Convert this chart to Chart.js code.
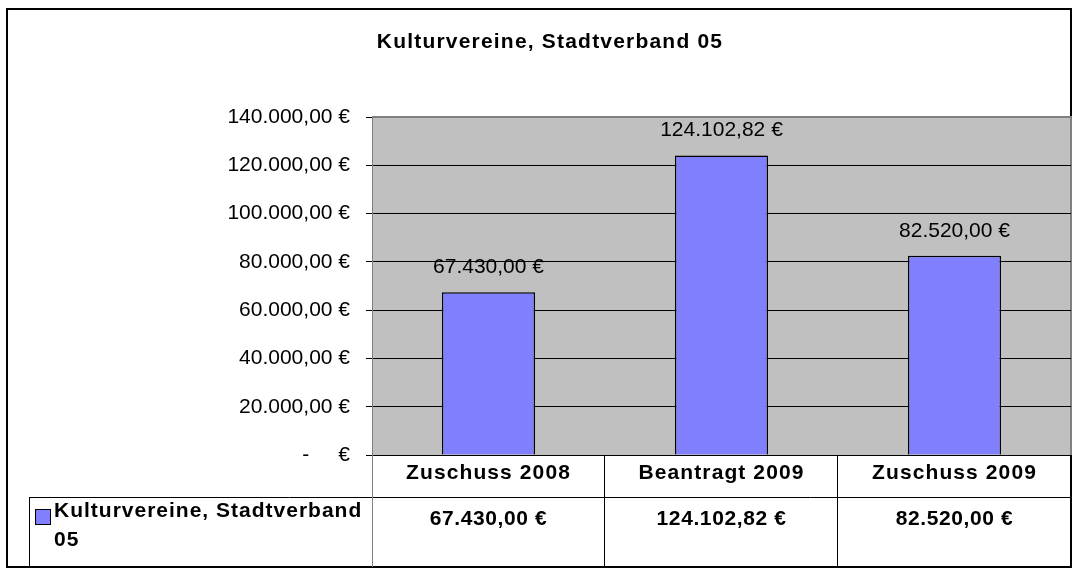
<!DOCTYPE html>
<html>
<head>
<meta charset="utf-8">
<script src="https://cdn.jsdelivr.net/npm/chart.js@4.4.1/dist/chart.umd.min.js"></script>
<style>
html, body { margin: 0; padding: 0; background: #fff; }
#wrap { width: 1079px; height: 584px; }
</style>
</head>
<body>
<div id="wrap"><canvas id="chart-kultur" width="1079" height="584"></canvas></div>
<script>
const TITEL = 'Kulturvereine, Stadtverband 05';
const KATEGORIEN = ['Zuschuss 2008', 'Beantragt 2009', 'Zuschuss 2009'];
const SERIE_NAME = ['Kulturvereine, Stadtverband', '05'];
const WERTE = [67430.00, 124102.82, 82520.00];
const Y_TICKS = [0, 20000, 40000, 60000, 80000, 100000, 120000, 140000];

const FONT = "'Liberation Sans', Arial, sans-serif";

// deutsches Format: 124.102,82 €
function euro(v) {
    if (v === 0) return '-     €';
    const [ganz, dez] = v.toFixed(2).split('.');
    return ganz.replace(/\B(?=(\d{3})+(?!\d))/g, '.') + ',' + dez + ' €';
}

// weisser Hintergrund, Rahmen, Titel, graue Zeichenflaeche
const hintergrund = {
    id: 'hintergrund',
    beforeDraw(chart) {
        const { ctx, chartArea: a } = chart;
        ctx.save();
        ctx.fillStyle = '#fff';
        ctx.fillRect(0, 0, chart.width, chart.height);
        ctx.strokeStyle = '#000';
        ctx.lineWidth = 2;
        ctx.strokeRect(7, 9, 1064, 558);

        ctx.fillStyle = '#c0c0c0';
        ctx.fillRect(a.left, a.top, a.right - a.left, a.bottom - a.top);
        ctx.strokeStyle = '#808080';
        ctx.lineWidth = 2;
        ctx.beginPath();
        ctx.moveTo(a.left, a.top);
        ctx.lineTo(a.right, a.top);
        ctx.lineTo(a.right, a.bottom);
        ctx.stroke();

        // Titel
        ctx.fillStyle = '#000';
        ctx.font = `bold 21px ${FONT}`;
        ctx.letterSpacing = '1.2px';
        ctx.textAlign = 'center';
        ctx.textBaseline = 'middle';
        ctx.fillText(TITEL, 550, 42);
        ctx.restore();
    }
};

// Werte ueber den Saeulen
const wertLabels = {
    id: 'wertLabels',
    afterDatasetsDraw(chart) {
        const { ctx } = chart;
        const meta = chart.getDatasetMeta(0);
        ctx.save();
        ctx.font = `21px ${FONT}`;
        ctx.fillStyle = '#000';
        ctx.textAlign = 'center';
        ctx.textBaseline = 'middle';
        meta.data.forEach((bar, i) => ctx.fillText(euro(WERTE[i]), bar.x, bar.y - 25));
        ctx.restore();
    }
};

// Datentabelle unter dem Diagramm
const datentabelle = {
    id: 'datentabelle',
    afterDraw(chart) {
        const { ctx, chartArea: a, scales: { x } } = chart;
        const oben = a.bottom;
        const mitte = 497;
        const unten = 567;
        const links = 29;
        const breite = (a.right - a.left) / KATEGORIEN.length;

        ctx.save();
        ctx.lineWidth = 1;
        ctx.strokeStyle = '#000';
        ctx.beginPath();
        ctx.moveTo(links, mitte + 0.5);
        ctx.lineTo(a.right, mitte + 0.5);
        ctx.moveTo(links, unten - 0.5);
        ctx.lineTo(a.right, unten - 0.5);
        ctx.moveTo(links + 0.5, mitte);
        ctx.lineTo(links + 0.5, unten);
        for (let i = 1; i <= KATEGORIEN.length; i++) {
            const xs = Math.round(a.left + i * breite) - 0.5;
            ctx.moveTo(xs, oben);
            ctx.lineTo(xs, unten);
        }
        ctx.stroke();

        ctx.strokeStyle = '#808080';
        ctx.beginPath();
        ctx.moveTo(a.left + 0.5, oben);
        ctx.lineTo(a.left + 0.5, unten);
        ctx.stroke();

        ctx.font = `bold 21px ${FONT}`;
        ctx.fillStyle = '#000';
        ctx.textAlign = 'center';
        ctx.textBaseline = 'middle';

        // Kategorien (Kopfzeile)
        ctx.letterSpacing = '1.1px';
        KATEGORIEN.forEach((k, i) => ctx.fillText(k, x.getPixelForValue(i), 473));

        // Werte
        ctx.letterSpacing = '0.6px';
        WERTE.forEach((v, i) => ctx.fillText(euro(v), x.getPixelForValue(i), 519));

        // Legendensymbol
        ctx.fillStyle = '#8080ff';
        ctx.fillRect(35, 509, 15, 15);
        ctx.strokeStyle = '#000';
        ctx.strokeRect(35.5, 509.5, 15, 15);

        ctx.fillStyle = '#000';
        ctx.textAlign = 'left';
        ctx.letterSpacing = '1px';
        ctx.fillText(SERIE_NAME[0], 54, 511);
        ctx.fillText(SERIE_NAME[1], 54, 540);
        ctx.restore();
    }
};

const ctx = document.getElementById('chart-kultur').getContext('2d');
new Chart(ctx, {
    type: 'bar',
    data: {
        labels: KATEGORIEN,
        datasets: [{
            label: SERIE_NAME.join(' '),
            data: WERTE,
            backgroundColor: '#8080ff',
            borderColor: '#000',
            borderWidth: 1.5,
            barPercentage: 0.4,
            categoryPercentage: 1,
        }]
    },
    options: {
        responsive: false,
        animation: false,
        layout: { padding: { left: 29, right: 8, top: 117, bottom: 0 } },
        plugins: {
            legend: { display: false },
            tooltip: { enabled: false },
            title: { display: false }
        },
        scales: {
            x: {
                grid: { display: false, drawTicks: false },
                border: { display: true, color: '#000', width: 1 },
                ticks: { display: false },
                afterFit: (s) => { s.height = 129; }
            },
            y: {
                min: 0,
                max: 140000,
                afterBuildTicks: (s) => { s.ticks = Y_TICKS.map(v => ({ value: v })); },
                ticks: {
                    color: '#000',
                    padding: 16,
                    font: { family: FONT, size: 21 },
                    callback: (v) => euro(v)
                },
                grid: {
                    color: (c) => (c.tick && c.tick.value === 140000 ? '#808080' : '#000'),
                    tickColor: '#000',
                    tickLength: 6,
                    lineWidth: 1
                },
                border: { color: '#808080', width: 1 },
                afterFit: (s) => { s.width = 343; }
            }
        }
    },
    plugins: [hintergrund, wertLabels, datentabelle]
});
</script>
</body>
</html>
